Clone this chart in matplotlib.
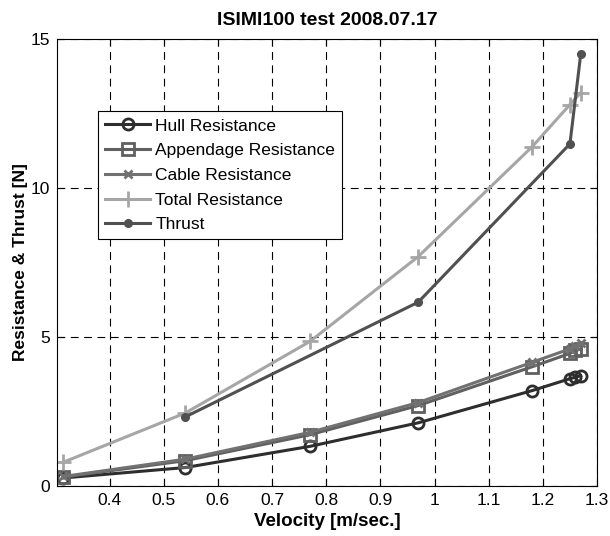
import numpy as np
import matplotlib
matplotlib.use("Agg")
import matplotlib.pyplot as plt
from matplotlib.ticker import FuncFormatter

plt.rcParams['font.family'] = ['Liberation Sans', 'DejaVu Sans']

# velocity [m/s]
v = [0.315, 0.54, 0.77, 0.97, 1.18, 1.25, 1.26, 1.27]
hull = [0.27, 0.62, 1.33, 2.12, 3.2, 3.6, 3.65, 3.7]
appendage = [0.3, 0.85, 1.72, 2.7, 4.0, 4.45, 4.55, 4.6]
cable = [0.32, 0.9, 1.8, 2.8, 4.15, 4.6, 4.7, 4.8]
v_total = [0.315, 0.54, 0.77, 0.97, 1.18, 1.25, 1.27]
total = [0.8, 2.45, 4.85, 7.7, 11.38, 12.8, 13.2]
v_thrust = [0.54, 0.97, 1.25, 1.27]
thrust = [2.32, 6.17, 11.48, 14.5]

fig = plt.figure(figsize=(6.1, 5.36), dpi=100)
ax = fig.add_axes([0.0934, 0.0933, 0.8853, 0.8339])

ax.plot(v, hull, color='#2e2e2e', lw=2.2, marker='o', ms=8, mfc='none', mew=2, label='Hull Resistance')
ax.plot(v, appendage, color='#606060', lw=2.2, marker='s', ms=8, mfc='none', mew=2, label='Appendage Resistance')
ax.plot(v, cable, color='#717171', lw=2.2, marker='x', ms=6, mew=2, label='Cable Resistance')
ax.plot(v_total, total, color='#a6a6a6', lw=2.2, marker='+', ms=12, mew=2, label='Total Resistance')
ax.plot(v_thrust, thrust, color='#505050', lw=2.2, marker='.', ms=11, label='Thrust')

ax.set_xlim(0.303, 1.3)
ax.set_ylim(0, 15)
ax.set_xticks(np.arange(0.4, 1.31, 0.1))
ax.set_yticks([0, 5, 10, 15])
ax.xaxis.set_major_formatter(FuncFormatter(lambda x, p: '%g' % round(x, 2)))
ax.tick_params(direction='in', top=True, right=True, labelsize=12.5, length=5, pad=5)
ax.grid(True, color='black', ls=(0, (7, 5)), lw=0.8)
for s in ax.spines.values():
    s.set_linewidth(0.8)

ax.set_title('ISIMI100 test 2008.07.17', fontsize=14, fontweight='bold', pad=10)
ax.set_xlabel('Velocity [m/sec.]', fontsize=13.5, fontweight='bold', labelpad=4)
ax.set_ylabel('Resistance & Thrust [N]', fontsize=12.5, fontweight='bold', labelpad=2)

leg = ax.legend(loc='upper left', bbox_to_anchor=(0.076, 0.838), fontsize=12.5,
                fancybox=False, edgecolor='black', framealpha=1, handlelength=2.6,
                borderpad=0.4, labelspacing=0.55, handletextpad=0.3, borderaxespad=0)
leg.get_frame().set_linewidth(0.8)

fig.savefig('out.png', dpi=100)
